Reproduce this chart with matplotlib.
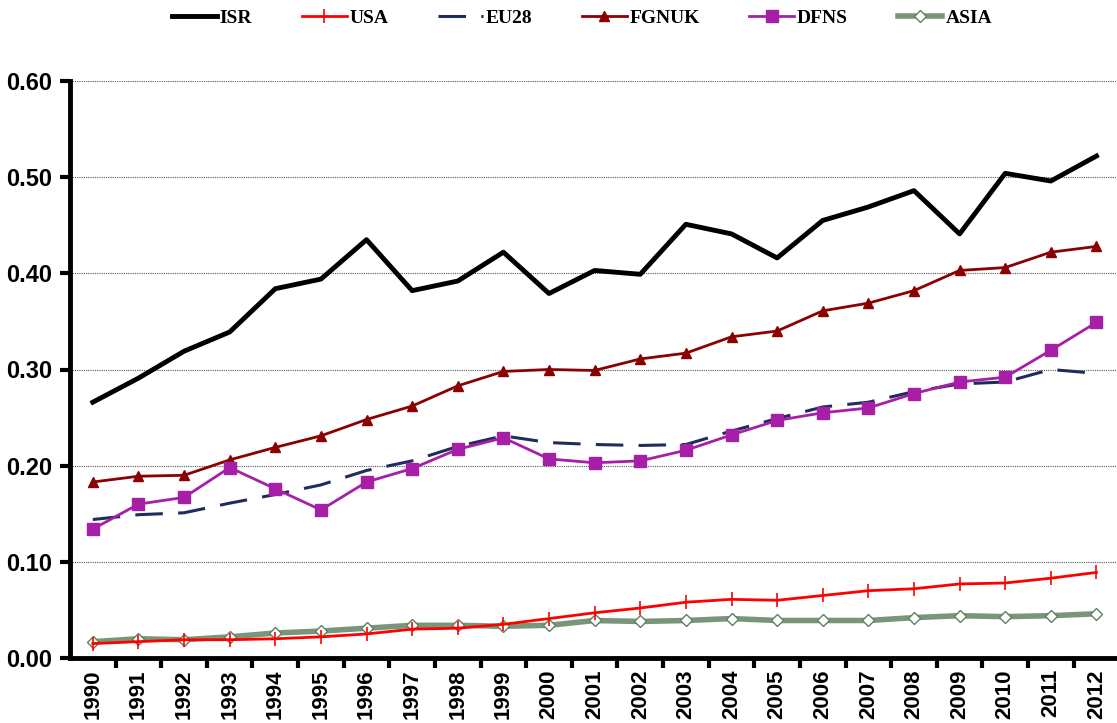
import matplotlib
matplotlib.use("Agg")
import matplotlib.pyplot as plt
from matplotlib.ticker import FixedLocator

years = [str(y) for y in range(1990, 2013)]
isr = [0.266, 0.291, 0.319, 0.339, 0.384, 0.394, 0.435, 0.382, 0.392, 0.422, 0.379, 0.403,
       0.399, 0.451, 0.441, 0.416, 0.455, 0.469, 0.486, 0.441, 0.504, 0.496, 0.522]
usa = [0.015, 0.017, 0.019, 0.019, 0.020, 0.022, 0.025, 0.030, 0.031, 0.035, 0.041, 0.047,
       0.052, 0.058, 0.061, 0.060, 0.065, 0.070, 0.072, 0.077, 0.078, 0.083, 0.089]
eu28 = [0.144, 0.149, 0.151, 0.161, 0.170, 0.180, 0.195, 0.205, 0.220, 0.231, 0.224, 0.222,
        0.221, 0.222, 0.236, 0.249, 0.261, 0.266, 0.277, 0.285, 0.287, 0.300, 0.296]
fgnuk = [0.183, 0.189, 0.190, 0.206, 0.219, 0.231, 0.248, 0.262, 0.283, 0.298, 0.300, 0.299,
         0.311, 0.317, 0.334, 0.340, 0.361, 0.369, 0.382, 0.403, 0.406, 0.422, 0.428]
dfns = [0.134, 0.160, 0.167, 0.198, 0.176, 0.154, 0.183, 0.197, 0.217, 0.229, 0.207, 0.203,
        0.205, 0.216, 0.232, 0.247, 0.255, 0.260, 0.275, 0.287, 0.292, 0.320, 0.349]
asia = [0.017, 0.020, 0.019, 0.022, 0.026, 0.028, 0.031, 0.034, 0.034, 0.033, 0.034, 0.039,
        0.038, 0.039, 0.041, 0.039, 0.039, 0.039, 0.042, 0.044, 0.043, 0.044, 0.046]
yticks = [0.0, 0.1, 0.2, 0.3, 0.4, 0.5, 0.6]

W, H = 1117, 723
fig = plt.figure(figsize=(W / 100, H / 100), dpi=100)
ax = fig.add_axes([70 / W, (H - 658) / H, (W - 70) / W, (658 - 81) / H])
x = list(range(len(years)))

ax.plot(x, isr, color="black", lw=3.5, label="ISR", zorder=6)
ax.plot(x, usa, color="#ff0000", lw=2, marker="|", ms=10, mew=1.2, label="USA", zorder=4)
ax.plot(x, eu28, color="#1f2d5c", lw=2.2, dashes=(9, 5), label="EU28", zorder=3)
ax.plot(x, fgnuk, color="#8b0000", lw=2, marker="^", ms=7, label="FGNUK", zorder=4)
ax.plot(x, dfns, color="#a61fa6", lw=2, marker="s", ms=8, label="DFNS", zorder=5)
ax.plot(x, asia, color="#7a967a", lw=4, marker="D", ms=6, mfc="white", mec="#5f7f5f",
        mew=1, label="ASIA", zorder=3)

ax.set_xlim(-0.5, 22.45)
ax.set_ylim(0, 0.6)
ax.set_yticks(yticks)
ax.set_yticklabels([f"{v:.2f}" for v in yticks])
ax.set_xticks(x)
ax.set_xticklabels(years, rotation=90)
ax.xaxis.set_minor_locator(FixedLocator([i + 0.5 for i in range(len(years))]))
ax.tick_params(axis="x", which="major", length=0, pad=8)
ax.tick_params(axis="x", which="minor", length=7, width=3, direction="out")
ax.tick_params(axis="y", length=7, width=3, pad=6)
for lbl in ax.get_xticklabels() + ax.get_yticklabels():
    lbl.set_fontfamily("Liberation Sans")
    lbl.set_fontweight("bold")
    lbl.set_fontsize(16)
for lbl in ax.get_yticklabels():
    lbl.set_fontsize(17)

ax.grid(axis="y", color="#555555", ls=(0, (1, 1)), lw=0.8)
ax.spines["top"].set_visible(False)
ax.spines["right"].set_visible(False)
ax.spines["left"].set_linewidth(3.5)
ax.spines["bottom"].set_linewidth(3.5)

leg = fig.legend(loc="center", bbox_to_anchor=(582 / W, 1 - 18 / H), ncol=6, frameon=False,
                 prop={"family": "Liberation Serif", "weight": "bold", "size": 14},
                 handlelength=2.3, columnspacing=2.55, handletextpad=0.15,
                 borderpad=0, borderaxespad=0)
fig.savefig("out.png", dpi=100)
